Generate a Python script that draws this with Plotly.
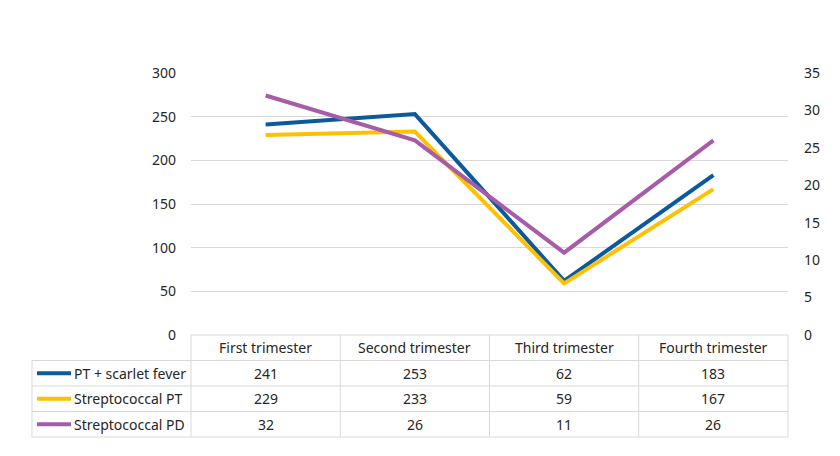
import plotly.graph_objects as go

categories = ["First trimester", "Second trimester", "Third trimester", "Fourth trimester"]
series_names = ["PT + scarlet fever", "Streptococcal PT", "Streptococcal PD"]
pt_scarlet = [241, 253, 62, 183]
strep_pt = [229, 233, 59, 167]
strep_pd = [32, 26, 11, 26]
colors = ["#0B5A9E", "#FFC000", "#A65CA8"]

W, H = 840, 456
off = 8                    # page body margin
x0, x1 = 191, 788          # plot / table columns, px
y_top, y_bot = 73, 335     # plot area, px
row_h = 25.5
font = "Noto Sans"
fs = 14


def px(x):
    return (x - off) / W


def py(y):
    return 1 - (y - off) / H


fig = go.Figure()
xs = list(range(len(categories)))
fig.add_trace(go.Scatter(x=xs, y=pt_scarlet, mode="lines", name=series_names[0],
                         line=dict(color=colors[0], width=4), yaxis="y"))
fig.add_trace(go.Scatter(x=xs, y=strep_pt, mode="lines", name=series_names[1],
                         line=dict(color=colors[1], width=4), yaxis="y"))
fig.add_trace(go.Scatter(x=xs, y=strep_pd, mode="lines", name=series_names[2],
                         line=dict(color=colors[2], width=4), yaxis="y2"))

fig.update_layout(
    width=W, height=H,
    margin=dict(l=0, r=0, t=0, b=0, autoexpand=False),
    paper_bgcolor="white", plot_bgcolor="white",
    showlegend=False,
    font=dict(family=font, size=fs, color="#262626"),
    xaxis=dict(domain=[px(x0), px(x1)], range=[-0.5, 3.5], showticklabels=False,
               showgrid=False, zeroline=False, fixedrange=True, automargin=False),
    yaxis=dict(domain=[py(y_bot), py(y_top)], range=[0, 300], dtick=50,
               showgrid=True, gridcolor="#d9d9d9", gridwidth=1, zeroline=False,
               ticks="", ticklabelstandoff=14, automargin=False),
    yaxis2=dict(overlaying="y", side="right", range=[0, 35], dtick=5,
                showgrid=False, zeroline=False, ticks="", ticklabelstandoff=15,
                automargin=False),
)

# data table below the plot
line_style = dict(color="#d9d9d9", width=1)
col_w = (x1 - x0) / len(categories)
rows_y = [y_bot + i * row_h for i in range(5)]
table_left = 32

# horizontal lines
fig.add_shape(type="line", xref="paper", yref="paper", x0=px(x0), x1=px(x1),
              y0=py(rows_y[0]), y1=py(rows_y[0]), line=line_style)
for y in rows_y[1:]:
    fig.add_shape(type="line", xref="paper", yref="paper", x0=px(table_left), x1=px(x1),
                  y0=py(y), y1=py(y), line=line_style)
# vertical lines
fig.add_shape(type="line", xref="paper", yref="paper", x0=px(table_left), x1=px(table_left),
              y0=py(rows_y[1]), y1=py(rows_y[4]), line=line_style)
for i in range(len(categories) + 1):
    xv = x0 + i * col_w
    fig.add_shape(type="line", xref="paper", yref="paper", x0=px(xv), x1=px(xv),
                  y0=py(rows_y[0]), y1=py(rows_y[4]), line=line_style)

# header
for i, cat in enumerate(categories):
    fig.add_annotation(x=px(x0 + (i + 0.5) * col_w), y=py(rows_y[0] + row_h / 2),
                       xref="paper", yref="paper", text=cat, showarrow=False,
                       xanchor="center", yanchor="middle")

# rows
for r, (name, vals) in enumerate(zip(series_names, [pt_scarlet, strep_pt, strep_pd])):
    yc = rows_y[r + 1] + row_h / 2
    fig.add_shape(type="line", xref="paper", yref="paper", x0=px(37), x1=px(71),
                  y0=py(yc), y1=py(yc), line=dict(color=colors[r], width=4))
    fig.add_annotation(x=px(72), y=py(yc), xref="paper", yref="paper", text=name,
                       showarrow=False, xanchor="left", yanchor="middle")
    for i, v in enumerate(vals):
        fig.add_annotation(x=px(x0 + (i + 0.5) * col_w), y=py(yc), xref="paper", yref="paper",
                           text=str(v), showarrow=False, xanchor="center", yanchor="middle")

fig.write_html("out.html")
